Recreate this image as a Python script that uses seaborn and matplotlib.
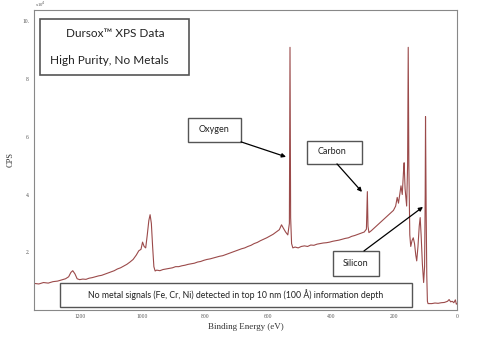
import matplotlib
matplotlib.use("Agg")
import matplotlib.pyplot as plt
from matplotlib.patches import Rectangle
from matplotlib.ticker import MultipleLocator
import pandas as pd
import seaborn as sns

# XPS survey (binding energy eV, counts in 1e4 CPS)
energy = [1345, 1330, 1315, 1300, 1285, 1270, 1255, 1245, 1235, 1228, 1222, 1215, 1208,
          1200, 1190, 1180, 1170, 1160, 1150, 1140, 1130, 1120, 1110, 1100, 1090, 1080,
          1070, 1060, 1050, 1040, 1030, 1020, 1012, 1005, 1000, 995, 990, 985, 980, 976,
          972, 968, 964, 960, 955, 945, 935, 925, 915, 905, 895, 885, 875, 865, 855, 845,
          835, 825, 815, 805, 795, 785, 775, 765, 755, 745, 735, 725, 715, 705, 695, 685,
          675, 665, 655, 645, 635, 625, 615, 605, 595, 585, 575, 565, 558, 553, 545, 538,
          533, 531, 529, 526, 522, 515, 505, 495, 485, 475, 465, 455, 445, 435, 425, 415,
          405, 395, 385, 375, 365, 355, 345, 335, 325, 315, 305, 295, 288, 285, 283, 280,
          272, 262, 252, 242, 232, 222, 212, 202, 195, 190, 186, 182, 178, 174, 170, 168,
          165, 160, 157, 155, 153, 150, 147, 143, 139, 135, 131, 128, 124, 120, 117, 114,
          110, 106, 103, 101, 100, 98, 96, 94, 92, 80, 70, 60, 50, 40, 30, 25, 20, 15, 10,
          5, 2, 0]
cps = [0.92, 0.90, 0.95, 0.93, 0.98, 1.00, 1.05, 1.08, 1.15, 1.30, 1.36, 1.25, 1.08,
       1.05, 1.07, 1.06, 1.10, 1.12, 1.15, 1.18, 1.20, 1.24, 1.28, 1.32, 1.36, 1.42,
       1.46, 1.52, 1.58, 1.66, 1.75, 1.90, 2.05, 2.10, 2.35, 2.20, 2.15, 2.60, 3.10, 3.30,
       3.00, 2.20, 1.50, 1.35, 1.38, 1.36, 1.40, 1.42, 1.44, 1.46, 1.50, 1.50, 1.53, 1.55,
       1.58, 1.60, 1.62, 1.66, 1.68, 1.72, 1.75, 1.77, 1.80, 1.83, 1.86, 1.88, 1.92, 1.96,
       2.00, 2.04, 2.08, 2.12, 2.15, 2.20, 2.24, 2.30, 2.34, 2.40, 2.45, 2.50, 2.56, 2.62,
       2.70, 2.78, 2.95, 2.85, 2.70, 2.60, 3.00, 9.10, 3.20, 2.30, 2.15, 2.18, 2.15, 2.20,
       2.22, 2.20, 2.25, 2.24, 2.28, 2.30, 2.32, 2.33, 2.35, 2.38, 2.40, 2.42, 2.45, 2.48,
       2.50, 2.55, 2.58, 2.62, 2.66, 2.70, 2.80, 4.10, 2.90, 2.68, 2.75, 2.85, 2.95, 3.05,
       3.15, 3.25, 3.35, 3.45, 3.60, 3.90, 3.70, 4.00, 4.30, 4.00, 4.80, 5.10, 4.20, 3.60,
       5.00, 9.10, 5.00, 2.60, 2.20, 2.40, 2.50, 2.30, 1.90, 1.70, 2.20, 2.90, 3.20, 2.60,
       1.60, 0.95, 1.50, 4.00, 6.70, 3.50, 1.20, 0.30, 0.22, 0.22, 0.24, 0.23, 0.25, 0.26,
       0.30, 0.36, 0.28, 0.30, 0.25, 0.35, 0.20, 0.22]

yticks = [2, 4, 6, 8, 10]
xticks = [1200, 1000, 800, 600, 400, 200, 0]

df = pd.DataFrame({"Binding Energy (eV)": energy, "CPS": cps})

sns.set_style("white")
plt.rcParams["font.family"] = ["Liberation Serif", "DejaVu Serif"]
box_font = ["Lato", "DejaVu Sans"]

fig = plt.figure(figsize=(4.8, 3.38), dpi=100)
ax = fig.add_axes([0.071, 0.083, 0.881, 0.888])

sns.lineplot(data=df, x="Binding Energy (eV)", y="CPS", sort=False, estimator=None,
             color="#9b4a4a", linewidth=0.8, ax=ax)

ax.set_xlim(1345, 0)
ax.set_ylim(0, 10.4)
ax.set_xticks(xticks)
ax.set_xticklabels([str(v) for v in xticks])
ax.xaxis.set_minor_locator(MultipleLocator(50))
ax.set_yticks(yticks)
ax.set_yticklabels([str(v) + "." for v in yticks])
ax.tick_params(axis="both", which="major", labelsize=4, length=2, width=0.5,
               direction="in", colors="#555555", pad=3)
ax.tick_params(axis="x", which="minor", length=1.5, width=0.4, direction="in",
               colors="#777777")
for s in ax.spines.values():
    s.set_color("#888888")
    s.set_linewidth(0.8)

ax.set_xlabel("Binding Energy (eV)", fontsize=6.5, labelpad=3, color="#333333")
ax.set_ylabel("CPS", fontsize=6, labelpad=6, color="#333333")
ax.text(0.003, 1.004, r"x10$^4$", transform=ax.transAxes, fontsize=3.3,
        color="#555555", va="bottom")


def px(x, y):
    # pixel position in the picture -> axes fraction
    return (x - 34) / 423.0, (310 - y) / 300.0


def box(x0, y0, x1, y1, lw=1.0):
    a, b = px(x0, y1)
    c, d = px(x1, y0)
    ax.add_patch(Rectangle((a, b), c - a, d - b, transform=ax.transAxes,
                           facecolor="white", edgecolor="#555555",
                           linewidth=lw, zorder=5, clip_on=False))


def label(x, y, s, size):
    ax.text(*px(x, y), s, transform=ax.transAxes, ha="center", va="center",
            fontsize=size, family=box_font, color="#222222", zorder=6)


def arrow(x0, y0, x1, y1):
    ax.annotate("", xy=px(x1, y1), xytext=px(x0, y0), xycoords="axes fraction",
                textcoords="axes fraction", zorder=6,
                arrowprops=dict(arrowstyle="-|>", color="black", lw=0.9,
                                mutation_scale=6, shrinkA=0, shrinkB=0))


box(40, 19, 189, 75, lw=1.2)
label(115, 34, "Dursox™ XPS Data", 8.5)
label(109, 61, "High Purity, No Metals", 8.5)

box(188, 118, 241, 142)
label(214, 130, "Oxygen", 6.5)
arrow(241, 142, 286, 157)

box(307, 141, 362, 164)
label(332, 152, "Carbon", 6.5)
arrow(337, 164, 362, 192)

box(333, 251, 379, 276)
label(356, 264, "Silicon", 6.5)
arrow(364, 251, 423, 207)

box(60, 283, 412, 307)
label(236, 295, "No metal signals (Fe, Cr, Ni) detected in top 10 nm (100 Å) information depth", 6.3)

fig.savefig("out.png", dpi=100)
